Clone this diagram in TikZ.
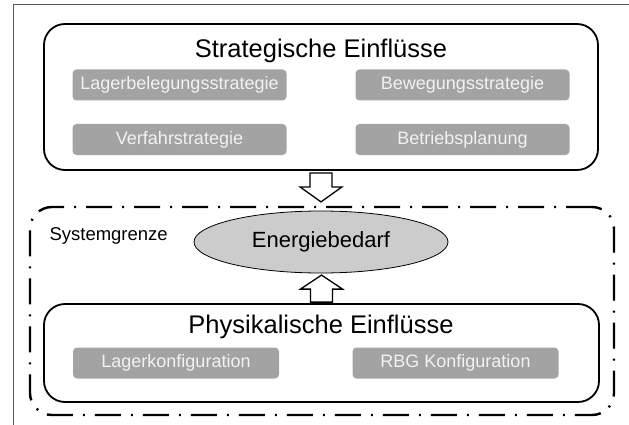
\documentclass[tikz,border=0pt]{standalone}
\usepackage{fontspec}
\setmainfont{Liberation Sans}
\usetikzlibrary{shapes.geometric}
\definecolor{itemfill}{RGB}{163,163,163}
\definecolor{itemtext}{RGB}{242,242,242}
\definecolor{bedarffill}{RGB}{204,204,204}
\definecolor{rahmen}{RGB}{90,90,90}

\begin{document}
\begin{tikzpicture}[x=1pt,y=-1pt,
  einfluss/.style={draw,line width=1.8pt,rounded corners=21pt,inner sep=0pt},
  faktor/.style={fill=itemfill,text=itemtext,rounded corners=4pt,inner sep=0pt,minimum height=31pt,font=\fontsize{18}{18}\selectfont},
  titel/.style={anchor=base,font=\fontsize{25.5}{26}\selectfont},
  pfeil/.style={draw,line width=1.3pt,fill=white,line join=miter}]

\useasboundingbox (0,0) rectangle (629,425);

\draw[rahmen,line width=1pt] (13,425) -- (13,5) -- (629,5);

% Systemgrenze
\node[draw,line width=2.4pt,rounded corners=22pt,dash pattern=on 26pt off 10pt on 2pt off 10pt,minimum width=584pt,minimum height=208pt] (sys) at (322,311) {};
\node[anchor=base west,font=\fontsize{18.5}{18}\selectfont] (systext) at (46,240) {Systemgrenze};

% strategische Einfluesse
\node[einfluss,minimum width=554pt,minimum height=146pt] (strat) at (321,97) {};
\node[titel] (strattitel) at (321,58) {Strategische Einflüsse};
\node[faktor,minimum width=214pt] (lagerbel) at (179.5,85) {Lagerbelegungsstrategie};
\node[faktor,minimum width=214pt] (beweg) at (462.5,85) {Bewegungsstrategie};
\node[faktor,minimum width=214pt] (verfahr) at (179.5,139.5) {Verfahrstrategie};
\node[faktor,minimum width=214pt] (betrieb) at (462.5,139.5) {Betriebsplanung};

% physikalische Einfluesse
\node[einfluss,minimum width=555pt,minimum height=98pt] (phys) at (321.5,353) {};
\node[titel] (phystitel) at (321,333) {Physikalische Einflüsse};
\node[faktor,minimum width=206pt] (lagerkonf) at (176,363) {Lagerkonfiguration};
\node[faktor,minimum width=206pt] (rbgkonf) at (455.5,363) {RBG Konfiguration};

\node[draw,ellipse,fill=bedarffill,line width=0.8pt,inner sep=0pt,minimum width=254pt,minimum height=62pt,font=\fontsize{22}{22}\selectfont] (bedarf) at (321,242) {Energiebedarf};

% Blockpfeile
\draw[pfeil] ([xshift=-11pt,yshift=-2pt]strat.south) -- ++(0,14) -- ++(-10,0) -- ++(21,15) -- ++(21,-15) -- ++(-10,0) -- ++(0,-14) -- cycle;
\draw[pfeil] ([xshift=-11pt,yshift=1pt]phys.north) -- ++(0,-13) -- ++(-10,0) -- ++(21,-14) -- ++(21,14) -- ++(-10,0) -- ++(0,13) -- cycle;

\end{tikzpicture}
\end{document}
